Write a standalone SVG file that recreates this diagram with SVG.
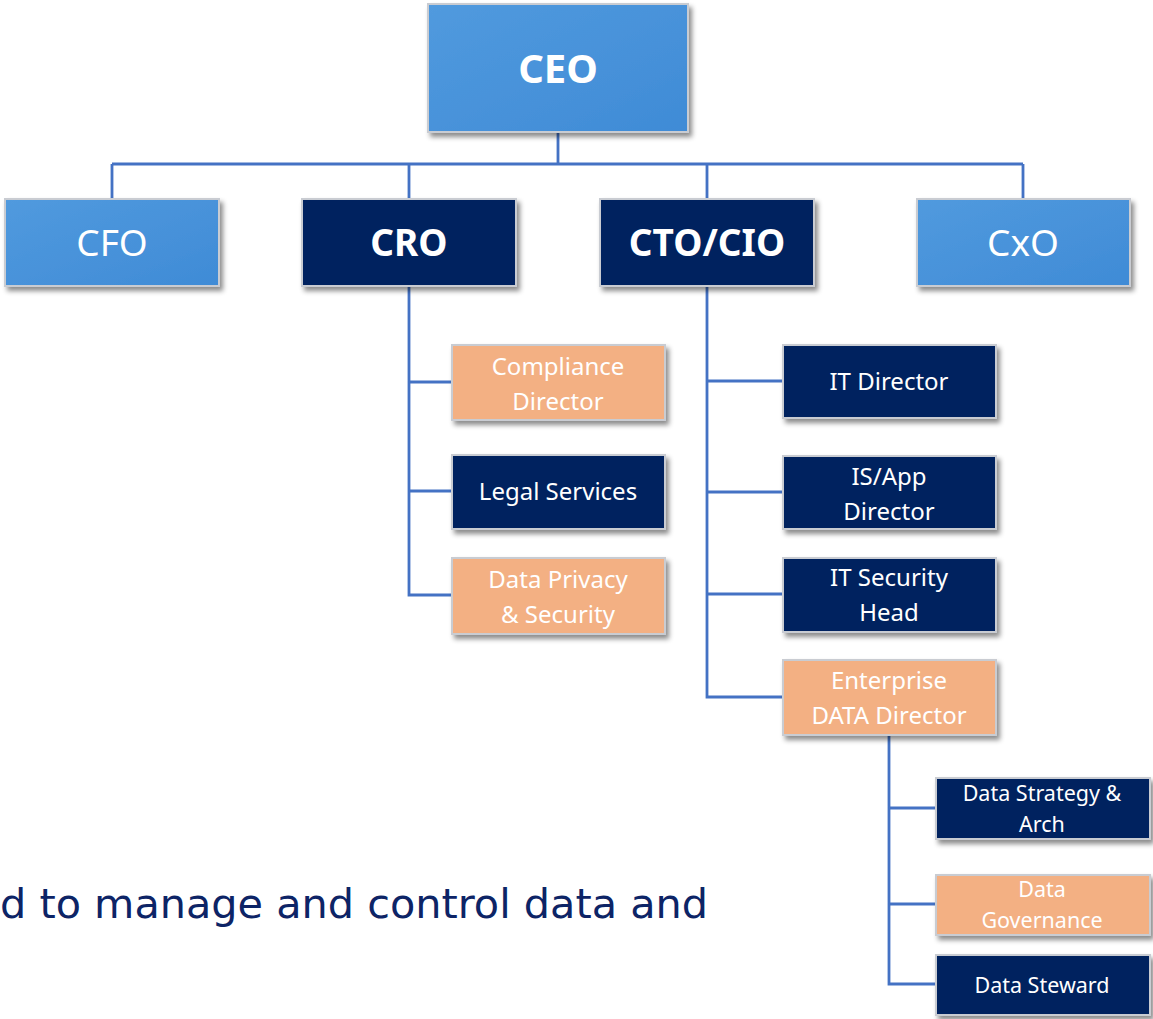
<svg xmlns="http://www.w3.org/2000/svg" width="1153" height="1019" viewBox="0 0 1153 1019">
<defs>
<filter id="sh" x="-10%" y="-10%" width="130%" height="140%">
<feDropShadow dx="3" dy="4" stdDeviation="2.5" flood-color="#000" flood-opacity="0.45"/>
</filter>
<linearGradient id="blue" x1="0" y1="0" x2="1" y2="1">
<stop offset="0" stop-color="#519ade"/>
<stop offset="1" stop-color="#3f8bd6"/>
</linearGradient>
</defs>
<style>
.box{stroke:#c9ccd2;stroke-width:2;filter:url(#sh)}
.b{fill:url(#blue)}
.n{fill:#03205e}
.o{fill:#f3b083}
.t{font-family:"Noto Sans","Open Sans","Liberation Sans",sans-serif;fill:#fff;text-anchor:middle}
.big{font-size:37px}
.bold{font-weight:bold}
.m{font-size:24px}
.s{font-size:21.5px}
.ln{stroke:#4472c4;stroke-width:2.8;fill:none}
</style>
<g id="connectors">
<path class="ln" d="M558 132V164M112 164H1023M112 164V199M409 164V199M707 164V199M1023 164V199"/>
<path class="ln" d="M409 286V595H452M409 382H452M409 491H452"/>
<path class="ln" d="M707 286V697H783M707 381H783M707 492H783M707 594H783"/>
<path class="ln" d="M889 735V984H936M889 808H936M889 904H936"/>
</g>
<g id="ceo"><rect class="box b" x="428" y="4" width="260" height="128"/><text class="t bold" x="558" y="83" font-size="40">CEO</text></g>
<g id="cfo"><rect class="box b" x="5" y="199" width="214" height="87"/><text class="t big" x="112" y="256">CFO</text></g>
<g id="cro"><rect class="box n" x="302" y="199" width="214" height="87"/><text class="t big bold" x="409" y="256">CRO</text></g>
<g id="cto"><rect class="box n" x="600" y="199" width="214" height="87"/><text class="t big bold" x="707" y="256">CTO/CIO</text></g>
<g id="cxo"><rect class="box b" x="917" y="199" width="213" height="87"/><text class="t big" x="1023" y="256">CxO</text></g>
<g id="compliance"><rect class="box o" x="452" y="345" width="213" height="75"/><text class="t m" x="558" y="375">Compliance</text><text class="t m" x="558" y="410">Director</text></g>
<g id="legal"><rect class="box n" x="452" y="455" width="213" height="74"/><text class="t m" x="558" y="500">Legal Services</text></g>
<g id="privacy"><rect class="box o" x="452" y="558" width="213" height="76"/><text class="t m" x="558" y="588">Data Privacy</text><text class="t m" x="558" y="623">&amp; Security</text></g>
<g id="itdir"><rect class="box n" x="783" y="345" width="213" height="73"/><text class="t m" x="889" y="390">IT Director</text></g>
<g id="isapp"><rect class="box n" x="783" y="456" width="213" height="73"/><text class="t m" x="889" y="485">IS/App</text><text class="t m" x="889" y="520">Director</text></g>
<g id="itsec"><rect class="box n" x="783" y="558" width="213" height="74"/><text class="t m" x="889" y="586">IT Security</text><text class="t m" x="889" y="621">Head</text></g>
<g id="edata"><rect class="box o" x="783" y="660" width="213" height="75"/><text class="t m" x="889" y="689">Enterprise</text><text class="t m" x="889" y="724">DATA Director</text></g>
<g id="strategy"><rect class="box n" x="936" y="778" width="214" height="61"/><text class="t s" x="1042" y="801">Data Strategy &amp;</text><text class="t s" x="1042" y="832">Arch</text></g>
<g id="governance"><rect class="box o" x="936" y="875" width="214" height="60"/><text class="t s" x="1042" y="897">Data</text><text class="t s" x="1042" y="928">Governance</text></g>
<g id="steward"><rect class="box n" x="936" y="955" width="214" height="60"/><text class="t s" x="1042" y="993">Data Steward</text></g>
<text x="0" y="918" font-family="'DejaVu Sans','Noto Sans',sans-serif" font-size="40" fill="#0d2466" textLength="708" lengthAdjust="spacingAndGlyphs">d to manage and control data and</text>
</svg>
